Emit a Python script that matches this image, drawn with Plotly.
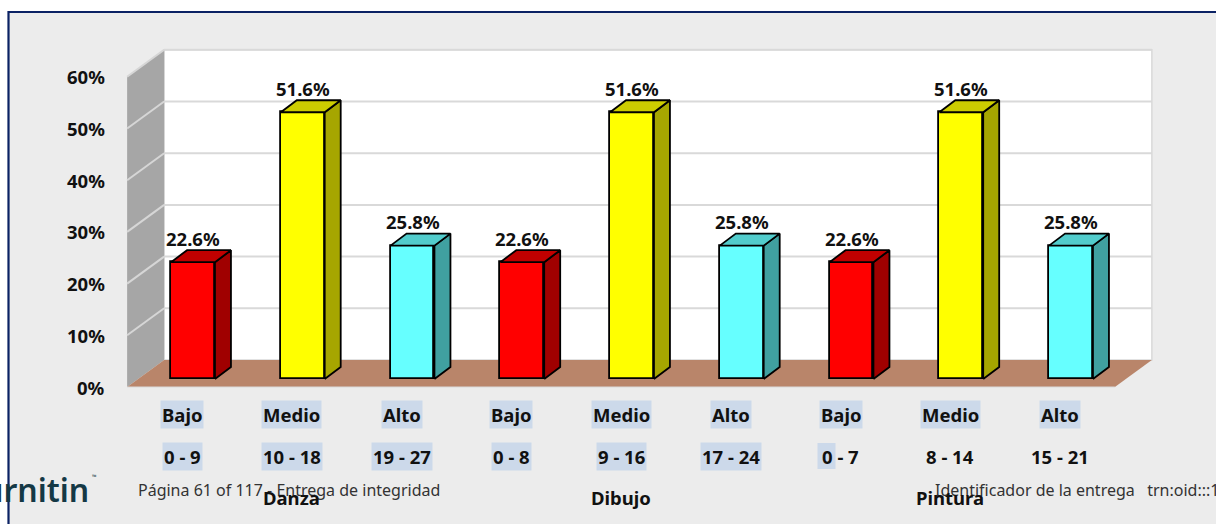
import plotly.graph_objects as go

# ---------------- data ----------------
levels = ["Bajo", "Medio", "Alto", "Bajo", "Medio", "Alto", "Bajo", "Medio", "Alto"]
ranges = ["0 - 9", "10 - 18", "19 - 27", "0 - 8", "9 - 16", "17 - 24", "0 - 7", "8 - 14", "15 - 21"]
groups = ["Danza", "Dibujo", "Pintura"]
group_center = [1, 4, 7]
values = [22.6, 51.6, 25.8, 22.6, 51.6, 25.8, 22.6, 51.6, 25.8]
y_ticks = [0, 10, 20, 30, 40, 50, 60]
y_tick_text = ["0%", "10%", "20%", "30%", "40%", "50%", "60%"]
footer_left = "Página 61 of 117 - Entrega de integridad"
footer_right = "Identificador de la entrega   trn:oid:::1"

# ---------------- style ----------------
W, H = 1216, 524
XU, X0PX = 109.75, 193.0      # px per category, px of first category
YU, Y0PX = 5.17, 379.0        # px per percent, px of 0%
BAR_W = 0.4
FONT = "Noto Sans"
TXT = "#111111"
colors = {
    "Bajo": ("#FF0000", "#A00000", "#C00000"),
    "Medio": ("#FFFF00", "#A6A600", "#CCCC00"),
    "Alto": ("#66FFFF", "#40A0A0", "#52CCCC"),
}
HL = "#CCD9EA"
range_hl = [True, True, True, True, True, True, False, False, False]


def off(dxpx, dypx):
    return dxpx / XU, -dypx / YU


FX, FY = off(-11, 8)     # front edge of floor
BX, BY = off(26, -19)    # back wall plane
DX, DY = off(16, -12)    # bar depth

xr = [-X0PX / XU, (W - X0PX) / XU]
yr = [-(H - Y0PX) / YU, Y0PX / YU]
XL, XR = -0.5, len(values) - 0.5
YTOP = y_ticks[-1]


def path(pts):
    return "M " + " L ".join(f"{x},{y}" for x, y in pts) + " Z"


shapes = []
# frame
shapes.append(dict(type="rect", xref="paper", yref="paper", x0=8.5 / W, x1=1.02,
                   y0=-0.02, y1=1 - 12 / H, fillcolor="#ECECEC",
                   line=dict(color="#0B2264", width=2.2), layer="below"))
# back wall
shapes.append(dict(type="rect", xref="x", yref="y", x0=XL + BX, x1=XR + BX,
                   y0=BY, y1=YTOP + BY, fillcolor="white",
                   line=dict(color="#D9D9D9", width=1.5), layer="below"))
# left wall
shapes.append(dict(type="path", xref="x", yref="y",
                   path=path([(XL + FX, FY), (XL + FX, YTOP + FY), (XL + BX, YTOP + BY), (XL + BX, BY)]),
                   fillcolor="#A6A6A6", line=dict(width=0), layer="below"))
# gridlines
for t in y_ticks[1:]:
    shapes.append(dict(type="line", xref="x", yref="y", x0=XL + BX, x1=XR + BX,
                       y0=t + BY, y1=t + BY, line=dict(color="#D9D9D9", width=2), layer="below"))
    shapes.append(dict(type="line", xref="x", yref="y", x0=XL + FX, x1=XL + BX,
                       y0=t + FY, y1=t + BY, line=dict(color="#D6D6D6", width=2), layer="below"))
# floor
shapes.append(dict(type="path", xref="x", yref="y",
                   path=path([(XL + FX, FY), (XR + FX, FY), (XR + BX, BY), (XL + BX, BY)]),
                   fillcolor="#B9856A", line=dict(width=0), layer="below"))
shapes.append(dict(type="line", xref="x", yref="y", x0=XL + FX, x1=XR + FX, y0=FY, y1=FY,
                   line=dict(color="#DADADA", width=1.2), layer="below"))

fig = go.Figure()
fig.add_trace(go.Bar(
    x=list(range(len(values))), y=values, width=BAR_W,
    marker=dict(color=[colors[l][0] for l in levels], line=dict(color="black", width=1.8)),
    hoverinfo="skip"))

for i, (v, l) in enumerate(zip(values, levels)):
    _, side, top = colors[l]
    xl, xrr = i - BAR_W / 2, i + BAR_W / 2
    fig.add_trace(go.Scatter(x=[xrr, xrr + DX, xrr + DX, xrr, xrr], y=[0, DY, v + DY, v, 0],
                             mode="lines", fill="toself", fillcolor=side,
                             line=dict(color="black", width=1.8), hoverinfo="skip"))
    fig.add_trace(go.Scatter(x=[xl, xl + DX, xrr + DX, xrr, xl], y=[v, v + DY, v + DY, v, v],
                             mode="lines", fill="toself", fillcolor=top,
                             line=dict(color="black", width=1.8), hoverinfo="skip"))

ann = []
# footer overlay (drawn first so the chart labels sit above it)
ann.append(dict(x=136 / W, y=1 - 490 / H, xref="paper", yref="paper", text=footer_left,
                showarrow=False, xanchor="left", yanchor="middle",
                font=dict(family=FONT, size=16, color="#333333")))
ann.append(dict(x=933 / W, y=1 - 490 / H, xref="paper", yref="paper", text=footer_right,
                showarrow=False, xanchor="left", yanchor="middle",
                font=dict(family=FONT, size=16, color="#333333")))
ann.append(dict(x=91 / W, y=1 - 489 / H, xref="paper", yref="paper", text="urnitin",
                showarrow=False, xanchor="right", yanchor="middle",
                font=dict(family=FONT, size=32, color="#143845", weight=600)))
ann.append(dict(x=90 / W, y=1 - 477 / H, xref="paper", yref="paper", text="™",
                showarrow=False, xanchor="left", yanchor="middle",
                font=dict(family=FONT, size=6, color="#143845")))

bold = dict(family=FONT, size=18.5, color=TXT, weight="bold")
for i, v in enumerate(values):
    ann.append(dict(x=i, y=v, xref="x", yref="y", text=f"{v:.1f}%", showarrow=False,
                    yshift=24, font=bold))
for t, s in zip(y_ticks, y_tick_text):
    ann.append(dict(x=XL, y=t, xref="x", yref="y", text=s, showarrow=False,
                    xanchor="right", xshift=-31, yshift=-8, font=bold))
for i, (l, r) in enumerate(zip(levels, ranges)):
    ann.append(dict(x=i, y=0, xref="x", yref="y", text=l, showarrow=False, xshift=-11,
                    yshift=-35, font=bold, bgcolor=HL, borderpad=1))
    ann.append(dict(x=i, y=0, xref="x", yref="y", text=r, showarrow=False, xshift=-11,
                    yshift=-77, font=bold, bgcolor=HL if range_hl[i] else None, borderpad=1))
# partial highlight behind the "0" of "0 - 7"
shapes.append(dict(type="rect", xref="x", yref="y", xsizemode="pixel", ysizemode="pixel",
                   xanchor=6, yanchor=0, x0=-34, x1=-16, y0=-90, y1=-64,
                   fillcolor=HL, line=dict(width=0), layer="below"))
for g, c in zip(groups, group_center):
    ann.append(dict(x=c, y=0, xref="x", yref="y", text=g, showarrow=False, xshift=-11,
                    yshift=-118, font=bold))

fig.update_layout(
    width=W, height=H, margin=dict(l=0, r=0, t=0, b=0),
    paper_bgcolor="white", plot_bgcolor="rgba(0,0,0,0)",
    xaxis=dict(range=xr, visible=False, fixedrange=True),
    yaxis=dict(range=yr, visible=False, fixedrange=True),
    showlegend=False, shapes=shapes, annotations=ann, bargap=0,
)
fig.write_html("out.html", config={"displayModeBar": False},
               post_script="document.body.style.margin='0';document.body.style.overflow='hidden';")
